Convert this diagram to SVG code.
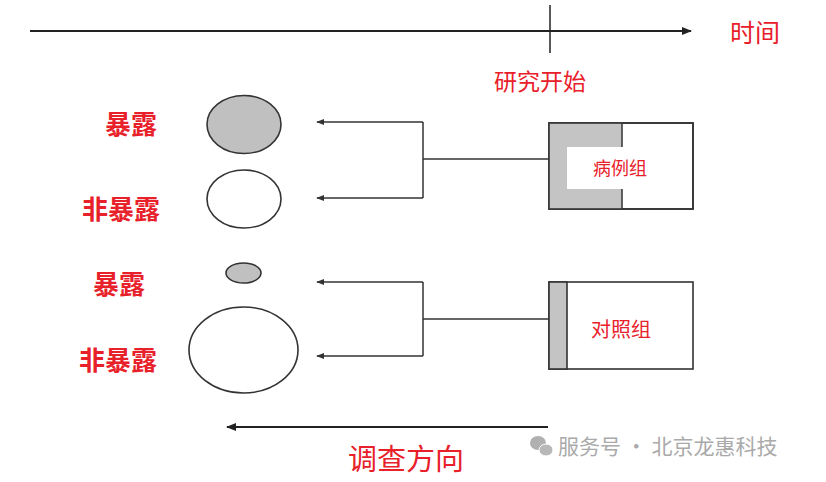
<svg xmlns="http://www.w3.org/2000/svg" width="826" height="482" viewBox="0 0 826 482">
<style>
.red{fill:#e8202a;font-family:"Noto Sans CJK SC","Liberation Sans",sans-serif;}
.lbl{font-size:26px;font-weight:bold;text-anchor:middle;dominant-baseline:central;}
.ln{stroke:#333;stroke-width:1.5;fill:none;}
.ell{stroke:#333;stroke-width:1.6;}
.box{stroke:#333;stroke-width:1.6;}
.wm{fill:#aaa;font-family:"Noto Sans CJK SC","Liberation Sans",sans-serif;font-size:21px;dominant-baseline:central;}
</style>
<defs>
<marker id="ah" viewBox="0 0 10 10" refX="9" refY="5" markerWidth="8" markerHeight="8" orient="auto-start-reverse" markerUnits="userSpaceOnUse">
<path d="M0,1 L10,5 L0,9 Z" fill="#333"/>
</marker>
<marker id="ah2" viewBox="0 0 10 10" refX="9" refY="5" markerWidth="10" markerHeight="10" orient="auto-start-reverse" markerUnits="userSpaceOnUse">
<path d="M0,1 L10,5 L0,9 Z" fill="#222"/>
</marker>
</defs>
<rect width="826" height="482" fill="#fff"/>

<g id="timeline">
<line x1="30" y1="31" x2="691" y2="31" stroke="#222" stroke-width="2" marker-end="url(#ah2)"/>
<line x1="550" y1="5" x2="550" y2="53" stroke="#222" stroke-width="1.5"/>
<text class="red" x="755" y="31" font-size="25" text-anchor="middle" dominant-baseline="central">时间</text>
<text class="red" x="540" y="80" font-size="23" text-anchor="middle" dominant-baseline="central">研究开始</text>
</g>

<g id="labels">
<text class="red lbl" x="131" y="122">暴露</text>
<text class="red lbl" x="121" y="207">非暴露</text>
<text class="red lbl" x="119" y="282">暴露</text>
<text class="red lbl" x="118" y="358">非暴露</text>
</g>

<g id="case-exposed"><ellipse class="ell" cx="244" cy="124.5" rx="37" ry="29" fill="#c0c0c0"/></g>
<g id="case-unexposed"><ellipse class="ell" cx="244" cy="199" rx="37" ry="29" fill="#fff"/></g>
<g id="control-exposed"><ellipse class="ell" cx="243.5" cy="273" rx="17.5" ry="10" fill="#c0c0c0"/></g>
<g id="control-unexposed"><ellipse class="ell" cx="243.5" cy="350" rx="54.5" ry="43" fill="#fff"/></g>

<g id="case-group">
<rect class="box" x="549" y="123" width="144" height="86" fill="#fff"/>
<path d="M549,123 H622 V147 H567 V189 H622 V209 H549 Z" fill="#c4c4c4" stroke="none"/>
<rect class="box" x="549" y="123" width="144" height="86" fill="none"/>
<line x1="622" y1="123" x2="622" y2="147" class="ln" stroke-width="1.6"/>
<line x1="622" y1="189" x2="622" y2="209" class="ln" stroke-width="1.6"/>
<text class="red" x="620" y="167" font-size="18" text-anchor="middle" dominant-baseline="central">病例组</text>
</g>

<g id="control-group">
<rect class="box" x="549" y="282" width="144" height="87" fill="#fff"/>
<rect class="box" x="549" y="282" width="18" height="87" fill="#c4c4c4"/>
<text class="red" x="621" y="328" font-size="20" text-anchor="middle" dominant-baseline="central">对照组</text>
</g>

<g id="connectors">
<path class="ln" d="M549,159 H423"/>
<path class="ln" d="M423,122 V198"/>
<path class="ln" d="M423,122 H317" marker-end="url(#ah)"/>
<path class="ln" d="M423,198 H317" marker-end="url(#ah)"/>
<path class="ln" d="M549,319 H423"/>
<path class="ln" d="M423,282 V356"/>
<path class="ln" d="M423,282 H317" marker-end="url(#ah)"/>
<path class="ln" d="M423,356 H317" marker-end="url(#ah)"/>
</g>

<g id="direction">
<line x1="548" y1="427" x2="227" y2="427" stroke="#222" stroke-width="2" marker-end="url(#ah2)"/>
<text class="red" x="406" y="457" font-size="29" text-anchor="middle" dominant-baseline="central">调查方向</text>
</g>

<g id="watermark">
<ellipse cx="538" cy="443" rx="8" ry="7" fill="#b0b0b0"/>
<ellipse cx="546" cy="450" rx="7" ry="6" fill="#b8b8b8" stroke="#fff" stroke-width="1"/>
<text class="wm" x="558" y="445">服务号 · 北京龙惠科技</text>
</g>
</svg>
